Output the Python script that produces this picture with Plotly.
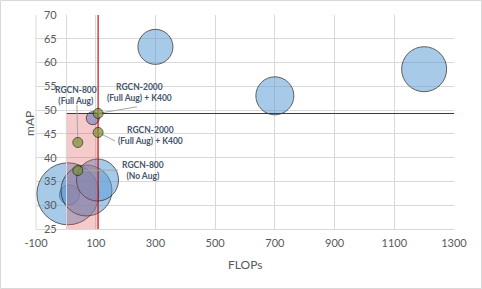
import plotly.graph_objects as go

# ---- data ----
blue_x = [12, 7, 69, 106, 300, 700, 1200]
blue_y = [32.2, 32.4, 33.1, 35.3, 63.3, 53.0, 58.6]
blue_size = [20, 62, 51, 42, 35, 38, 45]

purple_x = [90]
purple_y = [48.3]
purple_size = [13]

green_x = [108, 108, 40, 40]
green_y = [49.3, 45.3, 43.2, 37.3]
green_size = [10, 10, 10, 10]

green_labels = ["RGCN-2000<br>(Full Aug) + K400",
                "RGCN-2000<br>(Full Aug) + K400",
                "RGCN-800<br>(Full Aug)",
                "RGCN-800<br>(No Aug)"]
# label centre positions (data coords) and leader-line end points
label_x = [248, 282, 35, 258]
label_y = [53.8, 44.6, 53.0, 37.2]
leader_x = [238, 165, 37, 175]
leader_y = [50.7, 43.5, 51.1, 37.4]

region_x = [0, 108]
region_y = [25, 49.3]
threshold_x = 108
threshold_y = 49.3

x_ticks = [-100, 100, 300, 500, 700, 900, 1100, 1300]
x_tick_text = ["-100", "100", "300", "500", "700", "900", "1100", "1300"]
y_ticks = [25, 30, 35, 40, 45, 50, 55, 60, 65, 70]

FONT = "Lato"
GRID = "#D9D9D9"
TXT = "#595959"

fig = go.Figure()

# blue bubbles
fig.add_trace(go.Scatter(
    x=blue_x, y=blue_y, mode="markers",
    marker=dict(size=blue_size, sizemode="diameter", sizeref=1,
                color="rgba(91,155,213,0.75)",
                line=dict(color="#1a1a1a", width=1)),
    hoverinfo="skip", showlegend=False))

# pink region
fig.add_trace(go.Scatter(
    x=[region_x[0], region_x[1], region_x[1], region_x[0], region_x[0]],
    y=[region_y[0], region_y[0], region_y[1], region_y[1], region_y[0]],
    mode="lines", fill="toself", fillcolor="rgba(220,80,80,0.3)",
    line=dict(width=0), hoverinfo="skip", showlegend=False))

# purple bubble
fig.add_trace(go.Scatter(
    x=purple_x, y=purple_y, mode="markers",
    marker=dict(size=purple_size, sizemode="diameter", sizeref=1,
                color="rgb(136,136,196)",
                line=dict(color="#1a1a1a", width=1)),
    hoverinfo="skip", showlegend=False))

# red threshold lines
fig.add_trace(go.Scatter(
    x=[threshold_x, threshold_x], y=[25, 70], mode="lines",
    line=dict(color="#C00000", width=1.1), hoverinfo="skip", showlegend=False))
fig.add_trace(go.Scatter(
    x=[0, 1300], y=[threshold_y, threshold_y], mode="lines",
    line=dict(color="#C00000", width=1.1), hoverinfo="skip", showlegend=False))

# leader lines
for gx, gy, lx, ly in zip(green_x, green_y, leader_x, leader_y):
    fig.add_trace(go.Scatter(
        x=[gx, lx], y=[gy, ly], mode="lines",
        line=dict(color="#A6A6A6", width=1), hoverinfo="skip", showlegend=False))

# green bubbles
fig.add_trace(go.Scatter(
    x=green_x, y=green_y, mode="markers",
    marker=dict(size=green_size, sizemode="diameter", sizeref=1,
                color="rgb(122,146,46)",
                line=dict(color="#1a1a1a", width=1)),
    hoverinfo="skip", showlegend=False))

for t, lx, ly in zip(green_labels, label_x, label_y):
    fig.add_annotation(x=lx, y=ly, text="<b>" + t + "</b>", showarrow=False,
                       font=dict(family=FONT, size=8.5, color="#44546A"),
                       xanchor="center", yanchor="middle", align="center")

# axis titles
fig.add_annotation(xref="paper", yref="paper", x=0.5, y=-0.165, text="FLOPs",
                   showarrow=False, xanchor="center", yanchor="middle",
                   font=dict(family=FONT, size=12, color=TXT))
fig.add_annotation(xref="paper", yref="paper", x=-0.017, y=0.495, text="mAP",
                   showarrow=False, xanchor="center", yanchor="middle",
                   textangle=-90, font=dict(family=FONT, size=12, color=TXT))

fig.update_xaxes(range=[-100, 1300], tickvals=x_ticks, ticktext=x_tick_text,
                 showgrid=True, gridcolor=GRID, gridwidth=1, zeroline=False,
                 showline=True, linecolor=GRID,
                 tickfont=dict(family=FONT, size=11, color=TXT),
                 ticks="", ticklabelstandoff=4, automargin=False, fixedrange=True)
fig.update_yaxes(range=[25, 70], tickvals=y_ticks,
                 showgrid=True, gridcolor=GRID, gridwidth=1, zeroline=False,
                 showline=True, linecolor=GRID,
                 anchor="free", position=(0 + 100) / 1400,
                 tickfont=dict(family=FONT, size=11, color=TXT),
                 ticks="", ticklabelstandoff=7, automargin=False, fixedrange=True)

# left edge of plot area (x = -100)
fig.add_shape(type="line", xref="paper", yref="paper", x0=0, x1=0, y0=0, y1=1,
              line=dict(color=GRID, width=1), layer="below")

# outer chart border
fig.add_shape(type="rect", xref="paper", yref="paper",
              x0=(0.5 - 36) / 418, x1=(481.5 - 36) / 418,
              y0=(229 - 288.5) / 214, y1=(229 - 0.5) / 214,
              line=dict(color=GRID, width=1), layer="below")

fig.update_layout(width=482, height=289,
                  margin=dict(l=36, r=28, t=15, b=60),
                  paper_bgcolor="white", plot_bgcolor="white",
                  font=dict(family=FONT), hovermode=False)

fig.write_html("out.html", config={"displayModeBar": False, "staticPlot": True},
               post_script="document.body.style.margin='0';document.body.style.overflow='hidden';")
